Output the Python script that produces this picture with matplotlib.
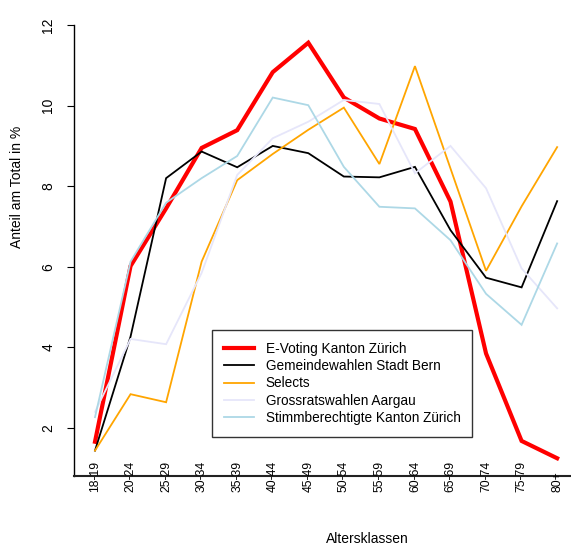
import numpy as np
import matplotlib
matplotlib.use("Agg")
import matplotlib.pyplot as plt
from matplotlib import transforms

plt.rcParams['font.family'] = ['Liberation Sans', 'DejaVu Sans']

# age classes
klassen = ["18-19", "20-24", "25-29", "30-34", "35-39", "40-44", "45-49",
           "50-54", "55-59", "60-64", "65-69", "70-74", "75-79", "80+"]

evoting_zh = [1.66, 6.02, 7.45, 8.95, 9.39, 10.83, 11.56, 10.2, 9.68, 9.42, 7.62, 3.85, 1.68, 1.25]
bern = [1.44, 4.27, 8.2, 8.86, 8.47, 9.0, 8.82, 8.24, 8.22, 8.48, 6.91, 5.73, 5.49, 7.63]
selects = [1.44, 2.84, 2.64, 6.13, 8.15, 8.8, 9.4, 9.95, 8.55, 10.98, 8.44, 5.9, 7.5, 8.97]
aargau = [2.4, 4.21, 4.08, 5.85, 8.28, 9.19, 9.6, 10.14, 10.04, 8.32, 9.0, 7.95, 5.96, 4.97]
stimmber_zh = [2.27, 6.13, 7.59, 8.2, 8.75, 10.2, 10.01, 8.48, 7.49, 7.45, 6.66, 5.33, 4.56, 6.58]

labels = ["E-Voting Kanton Zürich", "Gemeindewahlen Stadt Bern", "Selects",
          "Grossratswahlen Aargau", "Stimmberechtigte Kanton Zürich"]
farben = ["#FF0000", "#000000", "#FFA500", "#E6E6FA", "#ADD8E6"]
breiten = [3.0, 1.3, 1.3, 1.3, 1.3]

fig = plt.figure(figsize=(5.71, 5.45), dpi=100)
ax = fig.add_axes([74/571, 1-476/545, 1-74/571, (476-25)/545])

x = np.arange(len(klassen))
for serie, lab, col, lw in zip([evoting_zh, bern, selects, aargau, stimmber_zh], labels, farben, breiten):
    ax.plot(x, serie, color=col, lw=lw, label=lab, solid_joinstyle='miter')

ax.set_xlim(-0.591, 13.39)
ax.set_ylim(0.81, 12)
ax.spines['top'].set_visible(False)
ax.spines['right'].set_visible(False)
ax.spines['left'].set_linewidth(1.0)
ax.spines['bottom'].set_linewidth(1.5)
ax.spines['bottom'].set_color('#222222')

ax.set_yticks([2, 4, 6, 8, 10, 12])
ax.tick_params(axis='y', length=5, width=0.8, pad=8.5, labelsize=10, labelrotation=90)
for t in ax.get_yticklabels():
    t.set_va('center')
ax.set_xticks([])

# x labels straddle the axis line
off = transforms.ScaledTranslation(0, -16/100, fig.dpi_scale_trans)
for xi, k in zip(x, klassen):
    ax.text(xi, 0, k, rotation=90, ha='center', va='bottom', fontsize=8.7,
            transform=ax.get_xaxis_transform() + off, clip_on=False)

fig.text(17/571, 1-187/545, "Anteil am Total in %", rotation=90, ha='center', va='center', fontsize=10)
fig.text(367/571, 1-539/545, "Altersklassen", ha='center', va='center', fontsize=10)

leg = ax.legend(loc='upper left', bbox_to_anchor=((212-74)/497, (476-330)/451),
                fontsize=9.8, frameon=True, fancybox=False, borderpad=0.85,
                labelspacing=0.25, handlelength=2.2, handletextpad=0.9, borderaxespad=0)
leg.get_frame().set_edgecolor('black')
leg.get_frame().set_linewidth(1.0)

fig.savefig("out.png", dpi=100)
